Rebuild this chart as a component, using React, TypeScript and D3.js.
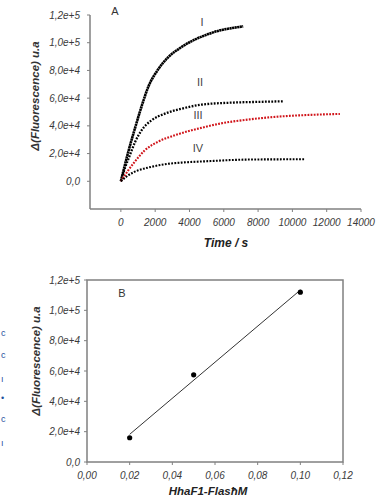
import React from "react";
import * as d3 from "d3";

// Panel A: kinetic curves (time in s, ΔF in u.a.)
const tI = [0, 426, 816, 1206, 1594, 2176, 2758, 3540, 4315, 4898, 5773, 6500, 7131];
const vI = [0, 21000, 38000, 54000, 68000, 80800, 89500, 96900, 102300, 105300, 108900, 110600, 111800];
const tII = [0, 250, 525, 816, 1206, 1790, 2566, 3540, 4705, 6548, 8000, 9463];
const vII = [0, 10000, 18800, 28000, 36800, 44000, 48800, 52400, 55300, 56800, 57300, 57700];
const tIII = [0, 426, 816, 1400, 2176, 3149, 4122, 4898, 5773, 7522, 9463, 11411, 12770];
const vIII = [0, 7800, 14200, 22400, 28600, 33200, 36800, 39200, 41600, 44700, 46900, 48100, 48600];
const tIV = [0, 426, 1009, 1594, 2566, 3540, 4898, 7522, 10729];
const vIV = [0, 4300, 7900, 9900, 12300, 13500, 14400, 15700, 15900];
const curveLabels = ["I", "II", "III", "IV"];
const xTicksA = [0, 2000, 4000, 6000, 8000, 10000, 12000, 14000];
const yTicks = [0, 20000, 40000, 60000, 80000, 100000, 120000];

// Panel B: ΔF vs concentration
const concB = [0.02, 0.05, 0.1];
const valB = [16000, 57500, 112000];
const xTicksB = [0, 0.02, 0.04, 0.06, 0.08, 0.1, 0.12];

const FONT = "'Liberation Sans', Arial, sans-serif";
const AXIS = "#808080";
const TXT = "#3a3a3a";

const fmtY = (d: number) => (d === 0 ? "0,0" : d3.format(".1e")(d).replace(".", ","));
const fmtXB = (d: number) => d3.format(".2f")(d).replace(".", ",");

export default function App() {
  // Panel A scales
  const xA = d3.scaleLinear().domain([-1800, 14000]).range([90, 361]);
  const yA = d3.scaleLinear().domain([-20000, 120000]).range([209, 15]);
  const series = [
    { t: tI, v: vI, color: "#000", dash: "2.2 0.4", w: 2.6, lx: 202, ly: 22 },
    { t: tII, v: vII, color: "#000", dash: "1.8 1.4", w: 2.3, lx: 200, ly: 82 },
    { t: tIII, v: vIII, color: "#d0141a", dash: "1.8 1.3", w: 2.1, lx: 198, ly: 115 },
    { t: tIV, v: vIV, color: "#000", dash: "1.8 1.4", w: 2.1, lx: 198, ly: 148 },
  ];
  const mk = (t: number[], v: number[]) =>
    d3
      .line<number>()
      .x((_, i) => xA(t[i]))
      .y((d) => yA(d))
      .curve(d3.curveMonotoneX)(v) || "";

  // Panel B scales
  const xB = d3.scaleLinear().domain([0, 0.12]).range([87, 343]);
  const yB = d3.scaleLinear().domain([0, 120000]).range([462, 280]);
  const mx = d3.mean(concB)!;
  const my = d3.mean(valB)!;
  const sxy = d3.sum(concB.map((c, i) => (c - mx) * (valB[i] - my)));
  const sxx = d3.sum(concB.map((c) => (c - mx) ** 2));
  const slope = sxy / sxx;
  const icpt = my - slope * mx;
  const x0 = concB[0];
  const x1 = concB[concB.length - 1];

  const blueBits = [
    { y: 336, s: "c" },
    { y: 358, s: "c" },
    { y: 382, s: "ı" },
    { y: 401, s: "•" },
    { y: 422, s: "c" },
    { y: 446, s: "ı" },
  ];

  return (
    <svg
      width={381}
      height={501}
      style={{ position: "absolute", left: 0, top: 0, background: "#fff" }}
      fontFamily={FONT}
    >
      <rect x={0} y={0} width={381} height={501} fill="#fff" />
      {blueBits.map((b, i) => (
        <text key={i} x={1} y={b.y} fontSize={9} fill="#1d4f9c">
          {b.s}
        </text>
      ))}

      {/* Panel A axes */}
      <line x1={xA.range()[0]} x2={xA.range()[0]} y1={yA.range()[1]} y2={yA.range()[0]} stroke={AXIS} strokeWidth={1.5} />
      <line x1={xA.range()[0]} x2={xA.range()[1]} y1={yA.range()[0]} y2={yA.range()[0]} stroke={AXIS} strokeWidth={1.5} />
      {yTicks.map((d) => (
        <g key={"ya" + d}>
          <line x1={xA.range()[0] - 3} x2={xA.range()[0]} y1={yA(d)} y2={yA(d)} stroke={AXIS} strokeWidth={1} />
          <text x={80} y={yA(d) + 3.5} textAnchor="end" fontSize={10} fontStyle="italic" fill={TXT}>
            {fmtY(d)}
          </text>
        </g>
      ))}
      {xTicksA.map((d) => (
        <g key={"xa" + d}>
          <line x1={xA(d)} x2={xA(d)} y1={yA.range()[0]} y2={yA.range()[0] + 3} stroke={AXIS} strokeWidth={1} />
          <text x={xA(d)} y={226} textAnchor="middle" fontSize={10} fontStyle="italic" fill={TXT}>
            {d}
          </text>
        </g>
      ))}
      <text x={226} y={247} textAnchor="middle" fontSize={12} fontWeight="bold" fontStyle="italic" fill="#222">
        Time / s
      </text>
      <text
        transform="translate(39,96) rotate(-90)"
        textAnchor="middle"
        fontSize={11.5}
        fontWeight="bold"
        fontStyle="italic"
        fill="#333"
      >
        Δ(Fluorescence) u.a
      </text>
      <text x={115} y={15} textAnchor="middle" fontSize={11} fill="#333">
        A
      </text>
      {series.map((s, i) => (
        <g key={"s" + i}>
          <path d={mk(s.t, s.v)} fill="none" stroke={s.color} strokeWidth={s.w} strokeDasharray={s.dash} />
          <text x={s.lx} y={s.ly + 4} textAnchor="middle" fontSize={11} fill="#444">
            {curveLabels[i]}
          </text>
        </g>
      ))}

      {/* Panel B */}
      <rect
        x={xB.range()[0]}
        y={yB.range()[1]}
        width={xB.range()[1] - xB.range()[0]}
        height={yB.range()[0] - yB.range()[1]}
        fill="none"
        stroke={AXIS}
        strokeWidth={1.5}
      />
      {yTicks.map((d) => (
        <g key={"yb" + d}>
          <line x1={xB.range()[0] - 3} x2={xB.range()[0]} y1={yB(d)} y2={yB(d)} stroke={AXIS} strokeWidth={1} />
          <text x={80} y={yB(d) + 3.5} textAnchor="end" fontSize={10} fontStyle="italic" fill={TXT}>
            {fmtY(d)}
          </text>
        </g>
      ))}
      {xTicksB.map((d) => (
        <g key={"xb" + d}>
          <line x1={xB(d)} x2={xB(d)} y1={yB.range()[0]} y2={yB.range()[0] + 3} stroke={AXIS} strokeWidth={1} />
          <text x={xB(d)} y={479} textAnchor="middle" fontSize={10} fontStyle="italic" fill={TXT}>
            {fmtXB(d)}
          </text>
        </g>
      ))}
      <text x={208} y={495} textAnchor="middle" fontSize={11.5} fontWeight="bold" fontStyle="italic" fill="#222">
        HhaF1-FlasħM
      </text>
      <text
        transform="translate(40,361) rotate(-90)"
        textAnchor="middle"
        fontSize={11.5}
        fontWeight="bold"
        fontStyle="italic"
        fill="#333"
      >
        Δ(Fluorescence) u.a
      </text>
      <text x={122} y={297} textAnchor="middle" fontSize={11} fill="#333">
        B
      </text>
      <line
        x1={xB(x0)}
        y1={yB(slope * x0 + icpt)}
        x2={xB(x1)}
        y2={yB(slope * x1 + icpt)}
        stroke="#333"
        strokeWidth={1}
      />
      {concB.map((c, i) => (
        <circle key={"p" + i} cx={xB(c)} cy={yB(valB[i])} r={2.6} fill="#000" />
      ))}
    </svg>
  );
}
